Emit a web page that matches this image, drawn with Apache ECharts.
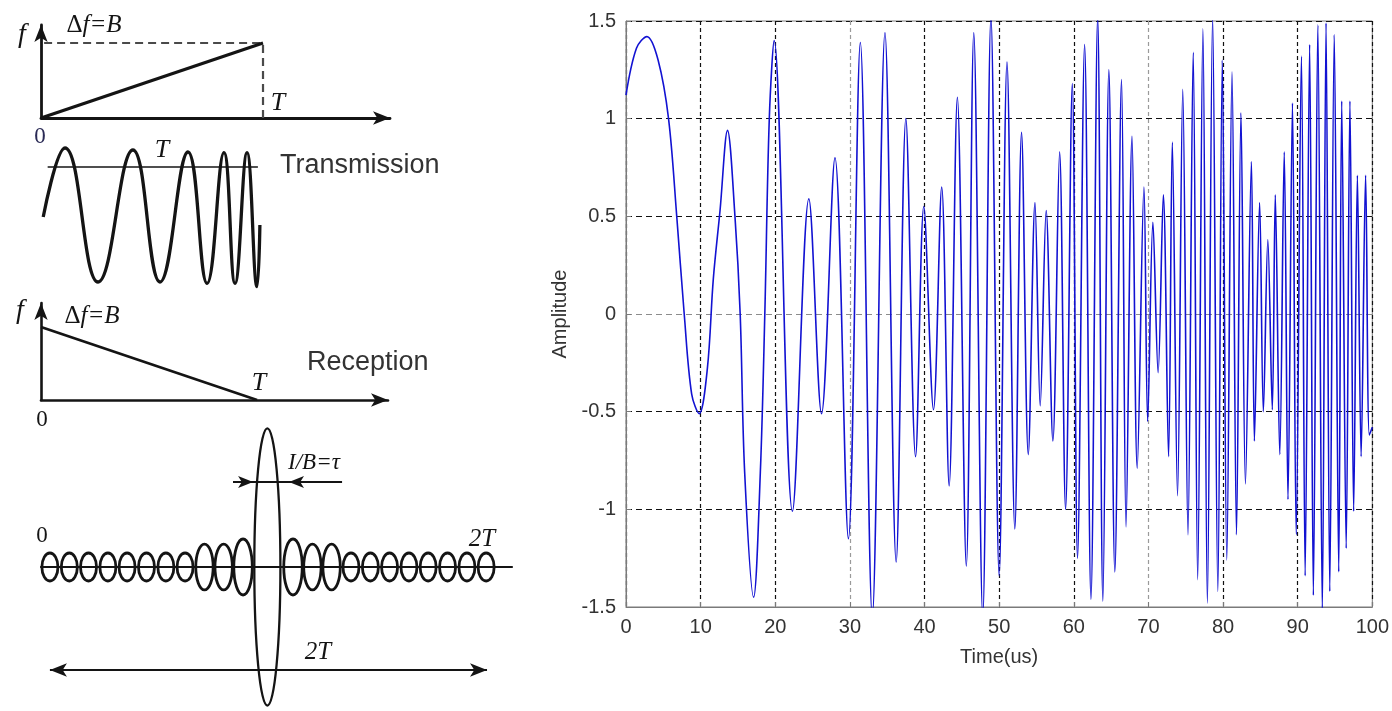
<!DOCTYPE html>
<html>
<head>
<meta charset="utf-8">
<script src="https://cdn.jsdelivr.net/npm/echarts@6/dist/echarts.min.js"></script>
<style>
  html, body { margin: 0; padding: 0; background: #fff; }
  #chart { width: 1392px; height: 711px; }
</style>
</head>
<body>
<div id="chart"></div>
<script>
// ---------------- Received signal (right panel) ----------------
// Sample times (us) at the turning points of the waveform and its amplitudes
const timeUs = [
  0, 1.4, 2.8, 4.3, 5.7, 6.8, 7.8, 8.8, 9.8, 10.9, 11.7, 12.6, 13.6, 14.6, 15.3, 15.9, 17.1, 18.0, 18.6, 19.2, 19.85,
  22.3, 24.5, 26.2, 28.0, 29.8, 31.4, 33.0, 34.7, 36.2, 37.5, 38.8, 39.9,
  41.2, 42.3, 43.3, 44.4, 45.6, 46.6, 47.8, 48.9, 50.0, 51.05, 52.1, 53.0, 53.9, 54.8, 55.5, 56.3, 57.2, 58.1, 58.9, 59.8,
  60.5, 61.45, 62.3, 63.2, 63.9, 64.7, 65.5, 66.4, 67.0, 67.8, 68.5, 69.4, 69.9, 70.6, 71.3, 72.0, 72.7, 73.2, 73.9,
  74.6, 75.3, 76.0, 76.6, 77.3, 77.9, 78.6, 79.3, 79.9,
  80.5, 81.2, 81.8, 82.4, 83.0, 83.8, 84.2, 84.9, 85.4, 86.0, 86.6, 87.0, 87.6, 88.2, 88.7, 89.3, 89.8,
  90.5, 91.0, 91.6, 92.1, 92.7, 93.3, 93.8, 94.3, 94.9, 95.5, 95.9, 96.5, 97.0, 97.5, 98.0, 98.5, 99.1, 99.6, 100
];
const amplitude = [
  1.12, 1.36, 1.42, 1.30, 1.0, 0.5, 0.0, -0.41, -0.51, -0.28, 0.18, 0.53, 0.94, 0.5, 0.0, -0.81, -1.45, -0.81, 0.0, 1.0, 1.40,
  -1.01, 0.59, -0.51, 0.80, -1.15, 1.39, -1.55, 1.44, -1.27, 1.0, -0.73, 0.55,
  -0.49, 0.65, -0.88, 1.11, -1.29, 1.44, -1.55, 1.52, -1.34, 1.29, -1.10, 0.93, -0.72, 0.57, -0.47, 0.53, -0.65, 0.83, -1.0, 1.18,
  -1.25, 1.38, -1.46, 1.52, -1.47, 1.25, -1.32, 1.20, -1.09, 0.91, -0.79, 0.65, -0.55, 0.47, -0.30, 0.61, -0.73, 0.88, -0.93,
  1.15, -1.13, 1.34, -1.36, 1.46, -1.48, 1.52, -1.42, 1.30,
  -1.26, 1.24, -1.13, 1.03, -0.87, 0.78, -0.65, 0.57, -0.50, 0.38, -0.49, 0.61, -0.72, 0.83, -0.95, 1.08, -1.13,
  1.32, -1.34, 1.38, -1.44, 1.48, -1.52, 1.49, -1.42, 1.43, -1.32, 1.09, -1.20, 1.09, -1.01, 0.71, -0.73, 0.71, -0.62, -0.58
];
const ampTicks = [-1.5, -1, -0.5, 0, 0.5, 1, 1.5];
const ampTickLabels = ['-1.5', '-1', '-0.5', '0', '0.5', '1', '1.5'];
const timeTicks = [0, 10, 20, 30, 40, 50, 60, 70, 80, 90, 100];

// ---------------- Chirp diagrams (left panels) ----------------
// x in units of the pulse length T, y in units of the bandwidth B
const upChirpFreq = [[0, 0], [1, 1]];
const upChirpGuide = [[0.014, 1], [1, 1], [1, 0]];
const downChirpFreq = [[0, 1], [1, 0]];

// transmitted waveform: turning points (t / T, normalised amplitude)
const txWaveT = [0.01, 0.108, 0.257, 0.414, 0.536, 0.662, 0.748, 0.824, 0.874, 0.928, 0.973, 0.986];
const txWaveA = [-0.03, 1.0, -1.0, 0.97, -1.0, 0.94, -1.02, 0.93, -1.02, 0.93, -1.07, -0.15];
const txRefLevel = 0.716;
const txRefSpan = [0.03, 0.977];

// compressed pulse: main lobe and side lobes (centre t / T, half height, width)
const lobeT = [0.040, 0.127, 0.213, 0.300, 0.386, 0.473, 0.560, 0.646, 0.733, 0.819, 0.906,
  1.015,
  1.130, 1.217, 1.303, 1.390, 1.477, 1.563, 1.650, 1.736, 1.823, 1.910, 1.996];
const lobeHalfHeight = [0.10, 0.10, 0.10, 0.10, 0.10, 0.10, 0.10, 0.10, 0.164, 0.164, 0.20,
  0.99,
  0.20, 0.164, 0.164, 0.10, 0.10, 0.10, 0.10, 0.10, 0.10, 0.10, 0.10];
const lobeWidth = [0.072, 0.072, 0.072, 0.072, 0.072, 0.072, 0.072, 0.072, 0.078, 0.078, 0.083,
  0.117,
  0.083, 0.078, 0.078, 0.072, 0.072, 0.072, 0.072, 0.072, 0.072, 0.072, 0.072];
// resolution marker 1/B = tau and the 2T span
const tauLevel = 0.607;
const tauBar = [0.946, 1.112];
const tauArrowLeft = [0.861, 0.951];
const tauArrowRight = [1.35, 1.112];
const spanLevel = -0.736;
const spanRange = [0.04, 2.0];

const SERIF = "'Liberation Serif', 'DejaVu Serif', serif";
const SANS = "'Liberation Sans', Arial, sans-serif";
const INK = '#141414';

function hiddenAxis(gridIndex, min, max) {
  return { type: 'value', gridIndex, min, max, show: false };
}
function arrowAxis(gridIndex, min, max, width) {
  return {
    type: 'value', gridIndex, min, max,
    axisLine: { show: true, onZero: true, symbol: ['none', 'arrow'], symbolSize: [10, 17],
      lineStyle: { color: INK, width } },
    axisTick: { show: false }, axisLabel: { show: false }, splitLine: { show: false }
  };
}

const chart = echarts.init(document.getElementById('chart'), null, { renderer: 'canvas' });

const xGridColors = timeTicks.map(t => (t === 30 || t === 70) ? '#9a9a9a' : '#111');
const yGridColors = ampTicks.map(v => v === 0 ? '#8c8c8c' : '#111');

const option = {
  animation: false,
  backgroundColor: '#fff',
  grid: [
    { left: 626, top: 21, width: 747, height: 586, show: true, borderColor: '#7a7a7a', borderWidth: 1 },
    { left: 41, top: 25, width: 349, height: 93 },
    { left: 41, top: 148, width: 222, height: 134 },
    { left: 41, top: 303, width: 347, height: 97 },
    { left: 41, top: 427, width: 471, height: 280 }
  ],
  xAxis: [
    {
      type: 'value', gridIndex: 0, min: 0, max: 100, interval: 10,
      name: 'Time(us)', nameLocation: 'middle', nameGap: 40,
      nameTextStyle: { fontFamily: SANS, fontSize: 20, color: '#333' },
      axisLine: { show: true, onZero: false, lineStyle: { color: '#7a7a7a' } },
      axisTick: { show: true, inside: true, length: 5, lineStyle: { color: '#7a7a7a' } },
      axisLabel: { fontFamily: SANS, fontSize: 20, color: '#333', margin: 10 },
      splitLine: { show: true, lineStyle: { color: xGridColors, type: [4, 3], width: 1.2 } }
    },
    arrowAxis(1, 0, 1.572, 2.8),
    hiddenAxis(2, 0, 1),
    arrowAxis(3, 0, 1.606, 2.6),
    {
      type: 'value', gridIndex: 4, min: 0, max: 2.112,
      axisLine: { show: true, onZero: true, lineStyle: { color: INK, width: 2.2 } },
      axisTick: { show: false }, axisLabel: { show: false }, splitLine: { show: false }
    }
  ],
  yAxis: [
    {
      type: 'value', gridIndex: 0, min: -1.5, max: 1.5, interval: 0.5,
      name: 'Amplitude', nameLocation: 'middle', nameGap: 56, nameRotate: 90,
      nameTextStyle: { fontFamily: SANS, fontSize: 20, color: '#333' },
      axisLine: { show: true, lineStyle: { color: '#7a7a7a' } },
      axisTick: { show: true, inside: true, length: 5, lineStyle: { color: '#7a7a7a' } },
      axisLabel: {
        fontFamily: SANS, fontSize: 20, color: '#333', margin: 10,
        formatter: v => {
          const i = ampTicks.findIndex(t => Math.abs(t - v) < 1e-9);
          return i >= 0 ? ampTickLabels[i] : '';
        }
      },
      splitLine: { show: true, lineStyle: { color: yGridColors, type: [6, 4], width: 1.2 } }
    },
    arrowAxis(1, 0, 1.24, 2.8),
    hiddenAxis(2, -1, 1),
    arrowAxis(3, 0, 1.33, 2.6),
    hiddenAxis(4, -1, 1)
  ],
  series: [
    {
      type: 'line', xAxisIndex: 0, yAxisIndex: 0,
      data: timeUs.map((t, i) => [t, amplitude[i]]),
      showSymbol: false, smooth: 0.35, clip: true,
      lineStyle: { color: '#1212d2', width: 1.6 }
    },
    // transmitted: frequency ramp and guide lines
    {
      type: 'line', xAxisIndex: 1, yAxisIndex: 1, data: upChirpGuide, showSymbol: false,
      lineStyle: { color: '#4a4a4a', width: 2.2, type: [8, 5] }
    },
    {
      type: 'line', xAxisIndex: 1, yAxisIndex: 1, data: upChirpFreq, showSymbol: false,
      lineStyle: { color: INK, width: 3.2 }
    },
    // transmitted waveform
    {
      type: 'line', xAxisIndex: 2, yAxisIndex: 2, data: [[txRefSpan[0], txRefLevel], [txRefSpan[1], txRefLevel]],
      showSymbol: false, lineStyle: { color: INK, width: 1.6 }
    },
    {
      type: 'line', xAxisIndex: 2, yAxisIndex: 2, data: txWaveT.map((t, i) => [t, txWaveA[i]]),
      showSymbol: false, smooth: 0.45, clip: false, lineStyle: { color: INK, width: 3.3 }
    },
    // received: frequency ramp
    {
      type: 'line', xAxisIndex: 3, yAxisIndex: 3, data: downChirpFreq, showSymbol: false,
      lineStyle: { color: INK, width: 2.6 }
    },
    // compressed pulse lobes
    {
      type: 'custom', xAxisIndex: 4, yAxisIndex: 4, clip: false,
      data: lobeT.map((t, i) => [t, lobeHalfHeight[i], lobeWidth[i]]),
      encode: { x: 0, y: 1 },
      renderItem: (params, api) => {
        const c = api.coord([api.value(0), 0]);
        const s = api.size([api.value(2), api.value(1)]);
        const isMain = api.value(1) > 0.5;
        return {
          type: 'ellipse',
          shape: { cx: c[0], cy: c[1], rx: s[0] / 2, ry: s[1] },
          style: { fill: 'none', stroke: INK, lineWidth: isMain ? 2.3 : 2.8 }
        };
      }
    },
    // 1/B = tau marker and 2T span arrows
    {
      type: 'line', xAxisIndex: 4, yAxisIndex: 4,
      data: [[tauBar[0], tauLevel], [tauBar[1], tauLevel]],
      showSymbol: false, lineStyle: { color: INK, width: 2 },
      markLine: {
        silent: true, animation: false,
        label: { show: false },
        lineStyle: { color: INK, width: 2, type: 'solid' },
        data: [
          [{ coord: [tauArrowLeft[0], tauLevel], symbol: 'none' },
           { coord: [tauArrowLeft[1], tauLevel], symbol: 'arrow', symbolSize: [9, 15] }],
          [{ coord: [tauArrowRight[0], tauLevel], symbol: 'none' },
           { coord: [tauArrowRight[1], tauLevel], symbol: 'arrow', symbolSize: [9, 15] }],
          [{ coord: [spanRange[0], spanLevel], symbol: 'arrow', symbolSize: [10, 17] },
           { coord: [spanRange[1], spanLevel], symbol: 'arrow', symbolSize: [10, 17] }]
        ]
      }
    }
  ],
  graphic: [
    // transmitted
    { type: 'text', x: 22, y: 35, style: { text: 'f', font: `italic 28px ${SERIF}`, fill: INK, align: 'center', verticalAlign: 'middle' } },
    { type: 'text', x: 94, y: 25, style: { text: '{u|Δ}{i|f=B}', align: 'center', verticalAlign: 'middle',
        rich: { u: { font: `25px ${SERIF}`, fill: INK }, i: { font: `italic 25px ${SERIF}`, fill: INK } } } },
    { type: 'text', x: 278, y: 103, style: { text: 'T', font: `italic 26px ${SERIF}`, fill: INK, align: 'center', verticalAlign: 'middle' } },
    { type: 'text', x: 40, y: 137, style: { text: '0', font: `23px ${SERIF}`, fill: '#2a2a55', align: 'center', verticalAlign: 'middle' } },
    { type: 'text', x: 162, y: 150, style: { text: 'T', font: `italic 26px ${SERIF}`, fill: INK, align: 'center', verticalAlign: 'middle' } },
    { type: 'text', x: 280, y: 166, style: { text: 'Transmission', font: `27px ${SANS}`, fill: '#333', align: 'left', verticalAlign: 'middle' } },
    // received
    { type: 'text', x: 20, y: 311, style: { text: 'f', font: `italic 28px ${SERIF}`, fill: INK, align: 'center', verticalAlign: 'middle' } },
    { type: 'text', x: 92, y: 316, style: { text: '{u|Δ}{i|f=B}', align: 'center', verticalAlign: 'middle',
        rich: { u: { font: `25px ${SERIF}`, fill: INK }, i: { font: `italic 25px ${SERIF}`, fill: INK } } } },
    { type: 'text', x: 307, y: 363, style: { text: 'Reception', font: `27px ${SANS}`, fill: '#333', align: 'left', verticalAlign: 'middle' } },
    { type: 'text', x: 259, y: 383, style: { text: 'T', font: `italic 26px ${SERIF}`, fill: INK, align: 'center', verticalAlign: 'middle' } },
    { type: 'text', x: 42, y: 420, style: { text: '0', font: `23px ${SERIF}`, fill: INK, align: 'center', verticalAlign: 'middle' } },
    // compressed pulse
    { type: 'text', x: 314, y: 463, style: { text: 'I/B=τ', font: `italic 23px ${SERIF}`, fill: INK, align: 'center', verticalAlign: 'middle' } },
    { type: 'text', x: 42, y: 536, style: { text: '0', font: `23px ${SERIF}`, fill: INK, align: 'center', verticalAlign: 'middle' } },
    { type: 'text', x: 482, y: 539, style: { text: '2T', font: `italic 25px ${SERIF}`, fill: INK, align: 'center', verticalAlign: 'middle' } },
    { type: 'text', x: 318, y: 652, style: { text: '2T', font: `italic 25px ${SERIF}`, fill: INK, align: 'center', verticalAlign: 'middle' } }
  ]
};

chart.setOption(option);
</script>
</body>
</html>
